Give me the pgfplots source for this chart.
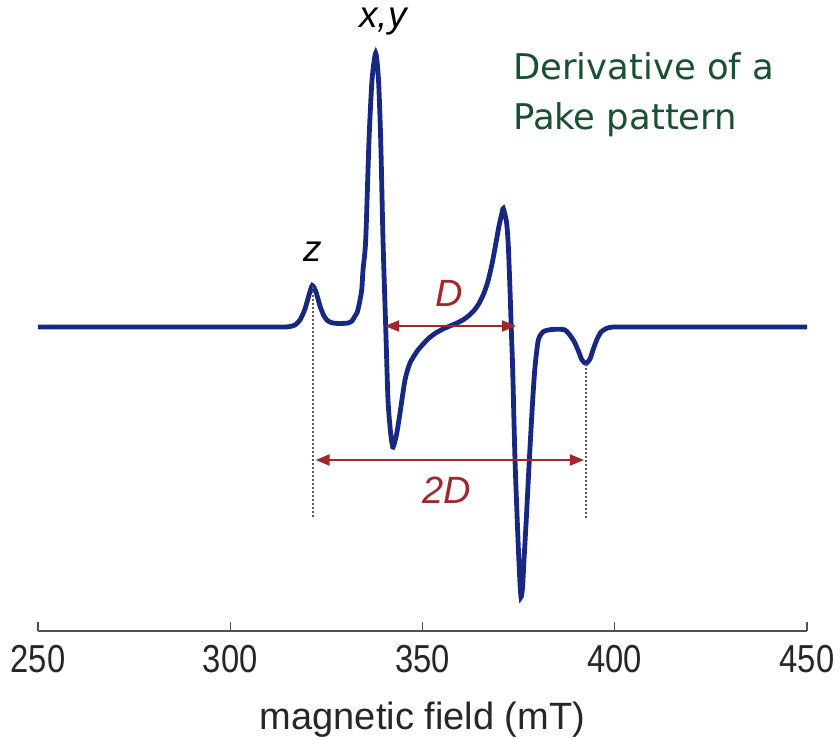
\documentclass[border=0pt]{standalone}
\usepackage{fontspec}
\setmainfont{Liberation Sans}
\newfontfamily\narrowfont{Liberation Sans}[FakeStretch=0.84]
\newfontfamily\titlefont{DejaVu Sans}
\usepackage{pgfplots}
\pgfplotsset{compat=1.18}
\usetikzlibrary{arrows.meta}

\definecolor{curveblue}{RGB}{24,40,128}
\definecolor{arrowred}{RGB}{160,40,45}
\definecolor{titlegreen}{RGB}{24,80,48}
\definecolor{axisgray}{RGB}{80,80,80}

\begin{document}
\begin{tikzpicture}
\begin{axis}[
    scale only axis,
    width=384.5pt, height=315.5pt,
    xmin=250, xmax=450,
    ymin=-304, ymax=327,
    axis x line=bottom,
    axis y line=none,
    x axis line style={-, color=axisgray, line width=0.7pt},
    xtick={250,300,350,400,450},
    xticklabels={250,300,350,400,450},
    tick align=inside,
    major tick length=4.5pt,
    tick style={color=axisgray, line width=0.6pt},
    xticklabel style={font=\narrowfont\fontsize{19.5}{19.5}\selectfont, text=black!85, yshift=-3.5pt},
    xlabel={magnetic field (mT)},
    xlabel style={font=\fontsize{19}{19}\selectfont, text=black!85, yshift=-8pt},
    clip=false,
]
% derivative Pake pattern, y in arbitrary units
\addplot[curveblue, line width=2.4pt, smooth, tension=0.4] coordinates {
(250,0) (290,0) (305,0) (311,0) (314.24,0) (315.54,0.5) (316.84,2) (318.14,7) (319.44,18) (320.48,32)
(321.34,41.5) (322.30,35) (323.34,21) (324.38,11) (325.42,6) (326.72,4)
(328.54,3.5) (330.62,4) (331.66,6) (332.44,11) (332.96,14) (333.49,22)
(334.19,37) (334.53,57) (335.23,87) (336.09,187) (336.87,247) (337.83,274)
(338.56,247) (339.13,187) (339.73,87) (340.43,0) (341.03,-73) (341.68,-105)
(342.25,-120) (342.72,-116) (343.37,-105) (344.15,-86) (345.45,-53)
(346.75,-36) (348.83,-23) (351.43,-12) (353.25,-6.5) (355.33,-2)
(357.15,1) (358.71,3.5) (360.27,6.5) (361.83,10.7) (363.39,16.5)
(364.69,23.5) (366.00,34) (367.04,46) (368.08,63) (369.12,84.5)
(369.90,101) (370.55,112) (371.01,118.5)
(371.85,105) (372.31,82) (372.76,37) (373.10,-3)
(373.46,-43) (374.06,-133) (374.84,-213) (375.31,-253) (375.62,-270)
(376.01,-261) (376.40,-233) (377.05,-188) (377.78,-133) (378.66,-73)
(379.26,-40) (380.12,-13) (381.42,-4.7) (383.60,-2.5) (387.06,-3)
(389.22,-13) (390.44,-23) (391.48,-33) (392.52,-36.5) (393.56,-32)
(394.34,-23) (395.31,-13) (396.42,-5) (397.91,-1.3) (399.54,0)
(402,0) (406,0) (414,0) (430,0) (450,0)
};
% guide lines
\draw[black!65, line width=1.4pt, dash pattern=on 1.2pt off 0.8pt] (axis cs:321.5,40) -- (axis cs:321.5,-191);
\draw[black!65, line width=1.4pt, dash pattern=on 1.2pt off 0.8pt] (axis cs:392.5,-37) -- (axis cs:392.5,-191);
\draw[arrowred, line width=1pt, {Triangle[length=7pt,width=5.5pt]}-{Triangle[length=7pt,width=5.5pt]}]
    (axis cs:340.25,1) -- (axis cs:374.32,1);
\draw[arrowred, line width=1pt, {Triangle[length=7pt,width=5.5pt]}-{Triangle[length=7pt,width=5.5pt]}]
    (axis cs:322.2,-133) -- (axis cs:392.0,-133);
\node[text=arrowred, font=\fontsize{19}{19}\selectfont\itshape] at (axis cs:356.9,34) {D};
\node[text=arrowred, font=\fontsize{19}{19}\selectfont\itshape] at (axis cs:356.4,-163) {2D};
\node[font=\fontsize{18.5}{18.5}\selectfont\itshape] at (axis cs:339.7,305) {x,y};
\node[font=\fontsize{18.5}{18.5}\selectfont\itshape] at (axis cs:321.5,75) {z};
\node[anchor=base west, inner sep=0pt, text=titlegreen, font=\titlefont\fontsize{17.7}{17.7}\selectfont] at (axis cs:373.5,247) {Derivative of a};
\node[anchor=base west, inner sep=0pt, text=titlegreen, font=\titlefont\fontsize{17.7}{17.7}\selectfont] at (axis cs:373.5,197) {Pake pattern};
\coordinate (bbsw) at (axis cs:240.12,-412);
\coordinate (bbne) at (axis cs:458.58,327);
\end{axis}
\pgfresetboundingbox
\useasboundingbox (bbsw) rectangle (bbne);
\end{tikzpicture}
\end{document}
